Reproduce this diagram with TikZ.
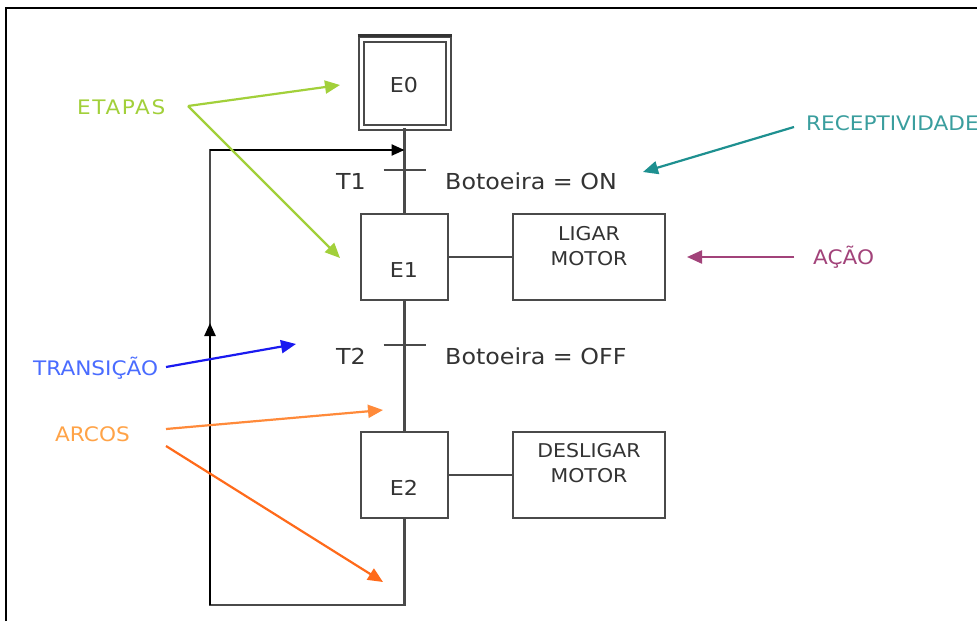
\documentclass[tikz,border=0pt]{standalone}
\usepackage{fontspec}
\setmainfont{DejaVu Sans}[FakeStretch=1.08]
\usetikzlibrary{arrows.meta}
\definecolor{ln}{HTML}{4A4A4A}
\definecolor{cetapas}{HTML}{A2D03A}
\definecolor{crec}{HTML}{3A9E9E}
\definecolor{crecA}{HTML}{1E9090}
\definecolor{cacao}{HTML}{A2437A}
\definecolor{ctrans}{HTML}{4A6CFF}
\definecolor{ctransA}{HTML}{1A1AF0}
\definecolor{carcos}{HTML}{FFA347}
\definecolor{carcosA}{HTML}{FF8A3A}
\definecolor{carcosB}{HTML}{FF6A1A}
\tikzset{
  wire/.style={draw=ln, line width=2.4pt},
  stepbox/.style={draw=ln, line width=2.4pt, minimum width=87pt, minimum height=86pt, inner sep=0pt},
  actbox/.style={draw=ln, line width=2.4pt, minimum width=152pt, minimum height=86pt, inner sep=0pt},
  blk/.style={text=black!80, font=\fontsize{22}{26}\selectfont, inner sep=0pt},
  boxtxt/.style={text=black!80, font=\fontsize{19}{24.5}\selectfont, inner sep=0pt, align=center},
  lab/.style={font=\fontsize{20}{24}\selectfont, inner sep=0pt, anchor=west},
  ptr/.style={line width=2.2pt, -{Triangle[length=15pt,width=13pt]}},
}
\begin{document}
\begin{tikzpicture}[x=1pt,y=-1pt]
\useasboundingbox (0,0) rectangle (977,621);
\fill[white] (0,0) rectangle (977,621);
% frame
\draw[line width=2.6pt,black] (6,621) -- (6,8) -- (977,8);
% steps
\node[draw=ln, double=white, double distance=3pt, line width=2pt, minimum width=87pt, minimum height=88pt, inner sep=0pt] (e0) at (404.5,83) {};
\draw[line width=2.6pt, draw=black!80] ([xshift=-2.5pt,yshift=2.5pt]e0.north west) -- ([xshift=2.5pt,yshift=2.5pt]e0.north east);
\node[blk, font=\fontsize{20.5}{24}\selectfont] (e0t) at (404,85) {E0};
\node[stepbox] (e1) at (404.5,257) {};
\node[blk, font=\fontsize{20.5}{24}\selectfont] (e1t) at (404,270) {E1};
\node[stepbox] (e2) at (404.5,475) {};
\node[blk, font=\fontsize{20.5}{24}\selectfont] (e2t) at (404,488) {E2};
% actions
\node[actbox] (a1) at (589,257) {};
\node[boxtxt] (a1t) at (589,246) {LIGAR\\MOTOR};
\node[actbox] (a2) at (589,475) {};
\node[boxtxt] (a2t) at (589,463) {DESLIGAR\\MOTOR};
\draw[wire] (e1.east) -- (a1.west);
\draw[wire] (e2.east) -- (a2.west);
% main line
\draw[wire] (e0.south) -- (e1.north);
\draw[wire] (e1.south) -- (e2.north);
% transitions
\coordinate (t1) at (404.5,170);
\coordinate (t2) at (404.5,345);
\draw[wire] ([xshift=-21pt]t1) -- ([xshift=21pt]t1);
\draw[wire] ([xshift=-21pt]t2) -- ([xshift=21pt]t2);
\node[blk] (t1t) at (351,181) {T1};
\node[blk] (t2t) at (351,356) {T2};
\node[blk, anchor=west] (r1) at (445,181) {Botoeira = ON};
\node[blk, anchor=west] (r2) at (445,356) {Botoeira = OFF};
% loop
\coordinate (lb) at (404.5,605);
\coordinate (ll) at (210,605);
\coordinate (lm) at (210,323);
\coordinate (lt) at (210,150);
\coordinate (jt) at (404.5,150);
\draw[wire, line join=miter] (e2.south) -- (lb) -- (ll) -- (lt) -- (jt);
\draw[line width=2.4pt, draw=black, -{Triangle[length=13pt,width=11pt]}] (ll) -- (lm);
\draw[line width=2.4pt, draw=black, -{Triangle[length=13pt,width=11pt]}] (lt) -- (jt);
% labels
\node[lab, text=cetapas, font=\addfontfeatures{LetterSpace=8}\fontsize{20}{24}\selectfont] (etapas) at (77,107) {ETAPAS};
\coordinate (etS) at (188,106);
\coordinate (etA) at (340,85);
\coordinate (etB) at (340,258);
\draw[ptr, draw=cetapas, fill=cetapas] (etS) -- (etA);
\draw[ptr, draw=cetapas, fill=cetapas] (etS) -- (etB);
\node[lab, text=crec] (rec) at (806,123) {RECEPTIVIDADE};
\coordinate (reS) at (794,127);
\coordinate (reE) at (643,172);
\draw[ptr, draw=crecA, fill=crecA] (reS) -- (reE);
\node[lab, text=cacao] (acao) at (813,257) {AÇÃO};
\coordinate (acS) at (794,257);
\coordinate (acE) at (687,257);
\draw[ptr, draw=cacao, fill=cacao] (acS) -- (acE);
\node[lab, text=ctrans] (trans) at (33,368) {TRANSIÇÃO};
\coordinate (trS) at (166,367);
\coordinate (trE) at (296,344);
\draw[ptr, draw=ctransA, fill=ctransA] (trS) -- (trE);
\node[lab, text=carcos] (arcos) at (55,434) {ARCOS};
\coordinate (arS1) at (166,429);
\coordinate (arE1) at (383,410);
\coordinate (arS2) at (166,446);
\coordinate (arE2) at (383,582);
\draw[ptr, draw=carcosA, fill=carcosA] (arS1) -- (arE1);
\draw[ptr, draw=carcosB, fill=carcosB] (arS2) -- (arE2);
\end{tikzpicture}
\end{document}
